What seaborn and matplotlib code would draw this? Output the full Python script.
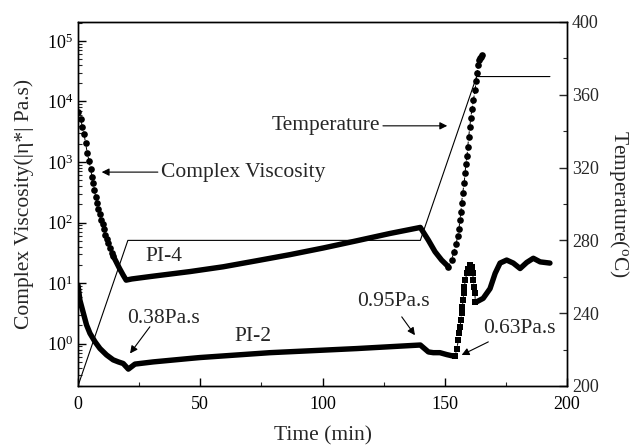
import numpy as np
import pandas as pd
import matplotlib
matplotlib.use("Agg")
import matplotlib.pyplot as plt
import seaborn as sns
from matplotlib.ticker import LogLocator, LogFormatterMathtext, MultipleLocator

# ---- PI-4: early cure (sparse points), steady plateau, late cure (sparse points)
pi4_early_t = [0.1, 1.1, 1.8, 2.5, 3.1, 3.8, 4.5, 5.2, 5.7, 6.3, 6.7, 7.2, 7.8, 8.3,
               8.9, 9.4, 10.1, 10.6, 11.2, 11.7, 12.4, 13.1, 13.8, 14.4]
pi4_early_v = [6760, 5130, 3800, 2880, 2040, 1410, 1050, 760, 575, 447, 347, 269, 214, 170,
               138, 112, 93, 78, 63, 54, 46, 38, 32, 28]
pi4_mid_t = [14.4, 15.5, 17.0, 18.5, 19.7, 22.0, 30.0, 45.8, 59.4, 73.1, 86.7, 100.3,
             114.0, 127.6, 140.0, 143.3, 146.0, 148.7, 151.5]
pi4_mid_v = [28, 23, 17.4, 13.5, 11.2, 11.7, 12.9, 15.5, 18.6, 23.4, 29.5, 38,
             50, 66, 83, 51, 33, 24, 18.6]
pi4_late_t = [151.5, 152.8, 153.8, 154.6, 155.3, 155.8, 156.2, 156.6, 156.9, 157.3, 157.9,
              158.3, 158.6, 159.1, 159.4, 159.8, 160.2, 160.6, 161.1, 161.7, 162.4,
              162.8, 163.2, 163.7, 164.1, 164.5, 164.9, 165.2]
pi4_late_v = [18.6, 24.5, 33, 44, 60, 79, 110, 151, 214, 302, 447,
              646, 933, 1260, 1780, 2630, 3720, 5250, 7410, 10500, 15500,
              21400, 29500, 39800, 47900, 51300, 55000, 57500]

# ---- PI-2
pi2_main_t = [0.0, 0.8, 2.2, 3.5, 4.9, 7.0, 9.0, 11.7, 14.4, 16.5, 18.5, 20.6, 23.3,
              30.8, 45.8, 49.9, 78.5, 114.0, 140.0, 143.3, 145.3, 148.0, 150.8, 153.0, 154.3]
pi2_main_v = [9.3, 5.2, 3.2, 2.04, 1.48, 1.07, 0.83, 0.65, 0.54, 0.50, 0.47, 0.38, 0.46,
              0.50, 0.57, 0.59, 0.71, 0.83, 0.95, 0.73, 0.71, 0.71, 0.66, 0.63, 0.63]
pi2_jump_t = [154.3, 154.9, 155.6, 156.0, 156.2, 156.6, 156.9, 157.2, 157.5, 157.7, 158.0,
              158.4, 159.0, 159.6, 160.3, 161.0, 161.4, 161.7, 162.0, 162.3, 162.5]
pi2_jump_v = [0.63, 0.83, 1.15, 1.48, 1.9, 2.45, 3.16, 4.07, 5.25, 6.76, 8.7,
              11.2, 14.5, 17.4, 20.0, 18.6, 14.5, 11.2, 8.7, 6.76, 4.9]
pi2_tail_t = [162.5, 163.0, 165.7, 168.5, 170.6, 172.6, 175.3, 178.0, 180.8, 183.5,
              186.2, 189.0, 193.0]
pi2_tail_v = [4.9, 4.9, 5.6, 8.1, 14.5, 21.4, 24.0, 21.4, 17.4, 21.9,
              25.7, 22.4, 21.4]

# ---- temperature program
temp_t = [0, 20.4, 140, 163, 193]
temp_c = [200, 280, 280, 370, 370]

sns.set_theme(style="ticks")
plt.rcParams["font.family"] = ["Liberation Serif", "DejaVu Serif"]
plt.rcParams["mathtext.fontset"] = "custom"
plt.rcParams["mathtext.rm"] = "Liberation Serif"
plt.rcParams["mathtext.it"] = "Liberation Serif:italic"
plt.rcParams["mathtext.bf"] = "Liberation Serif:bold"

fig = plt.figure(figsize=(6.35, 4.48), dpi=100)
ax = fig.add_axes([0.1228, 0.1384, 0.7702, 0.8126])

k = "black"
# dense segments drawn as heavy lines
for tt, vv in [(pi4_mid_t, pi4_mid_v), (pi2_main_t, pi2_main_v), (pi2_tail_t, pi2_tail_v)]:
    sns.lineplot(x=tt, y=vv, ax=ax, color=k, linewidth=3.9, estimator=None, sort=False,
                 solid_capstyle="round", solid_joinstyle="round")
# sparse segments with markers
for tt, vv in [(pi4_early_t, pi4_early_v), (pi4_late_t, pi4_late_v)]:
    sns.lineplot(x=tt, y=vv, ax=ax, color=k, linewidth=0.7, linestyle="--", marker="o",
                 markersize=4.8, markeredgewidth=0, estimator=None, sort=False)
sns.lineplot(x=pi2_jump_t, y=pi2_jump_v, ax=ax, color=k, linewidth=0.7, linestyle="--",
             marker="s", markersize=4.5, markeredgewidth=0, estimator=None, sort=False)

ax.set_yscale("log")
ax.set_xlim(0, 200)
ax.set_ylim(0.2, 2.05e5)
ax.yaxis.set_minor_locator(LogLocator(base=10, subs=np.arange(2, 10), numticks=20))
ax.yaxis.set_major_formatter(LogFormatterMathtext())
ax.set_yticks([1, 10, 100, 1e3, 1e4, 1e5])
ax.xaxis.set_major_locator(MultipleLocator(50))
ax.xaxis.set_minor_locator(MultipleLocator(25))
ax.tick_params(axis="both", which="major", direction="in", length=6, width=1,
               labelsize=13, colors=k, top=False)
ax.tick_params(axis="both", which="minor", direction="in", length=3, width=0.8, top=False)
ax.tick_params(axis="x", pad=7)
ax.set_xlabel("Time (min)", fontsize=15.5, labelpad=10)
ax.set_ylabel("Complex Viscosity(|η*| Pa.s)", fontsize=15.5, labelpad=9)

ax2 = ax.twinx()
sns.lineplot(x=temp_t, y=temp_c, ax=ax2, color=k, linewidth=0.8, estimator=None, sort=False)
ax2.set_ylim(200, 400)
ax2.yaxis.set_major_locator(MultipleLocator(40))
ax2.yaxis.set_minor_locator(MultipleLocator(20))
ax2.tick_params(axis="y", which="major", direction="in", length=6, width=1, labelsize=13)
ax2.tick_params(axis="y", which="minor", direction="in", length=3, width=0.8)
ax2.set_ylabel(r"Temperature($^\mathrm{o}$C)", fontsize=15.5, rotation=-90, labelpad=23)

for a in (ax, ax2):
    for s in a.spines.values():
        s.set_color(k)
        s.set_linewidth(1.0)

arrow = dict(arrowstyle="-|>", color=k, lw=0.8, mutation_scale=11, shrinkA=0, shrinkB=0)
fs = 15.5
ax.annotate("Complex Viscosity", xy=(9.7, 680), xytext=(34, 680), fontsize=fs,
            va="center", ha="left", arrowprops=arrow)
ax.annotate("Temperature", xy=(151, 3950), xytext=(79, 3950), fontsize=fs,
            va="center", ha="left", arrowprops=dict(arrow))
ax.text(35, 27, "PI-4", fontsize=fs, ha="center", va="center")
ax.text(71.4, 1.3, "PI-2", fontsize=fs, ha="center", va="center")
ax.text(35, 2.6, "0.38Pa.s", fontsize=fs, ha="center", va="center")
ax.annotate("", xy=(21.3, 0.69), xytext=(29.4, 1.9), arrowprops=arrow)
ax.text(129, 4.9, "0.95Pa.s", fontsize=fs, ha="center", va="center")
ax.annotate("", xy=(137.8, 1.38), xytext=(132.4, 2.77), arrowprops=arrow)
ax.text(180.6, 1.78, "0.63Pa.s", fontsize=fs, ha="center", va="center")
ax.annotate("", xy=(156.9, 0.65), xytext=(167.8, 1.07), arrowprops=arrow)

fig.savefig("out.png", dpi=100)
